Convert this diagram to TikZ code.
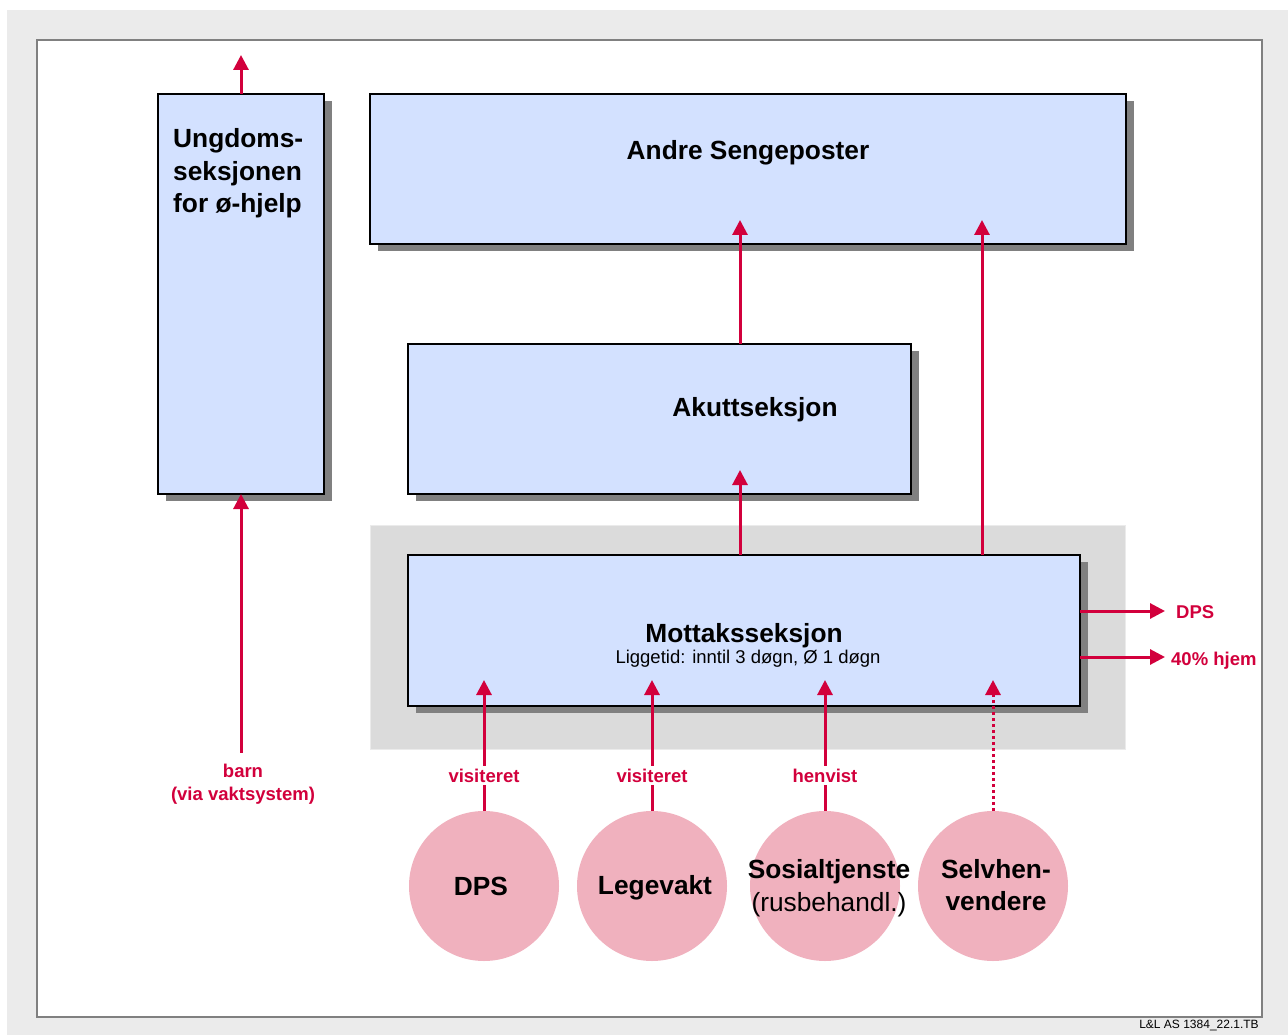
\documentclass[tikz,border=0pt]{standalone}
\usepackage{fontspec}
\setmainfont{Liberation Sans}
\usetikzlibrary{arrows.meta,shadows,calc}
\definecolor{pagegrey}{RGB}{235,235,235}
\definecolor{framegrey}{RGB}{128,128,128}
\definecolor{boxblue}{RGB}{211,225,255}
\definecolor{mottakbg}{RGB}{219,219,219}
\definecolor{shadowgrey}{RGB}{128,128,128}
\definecolor{crimson}{RGB}{210,0,60}
\definecolor{pinkc}{RGB}{240,177,190}
\begin{document}
\begin{tikzpicture}[x=1pt,y=-1pt,
  box/.style={draw=black, line width=1.5pt, fill=boxblue, inner sep=0pt, outer sep=0pt, anchor=north west,
    drop shadow={shadow xshift=8pt, shadow yshift=-7pt, fill=shadowgrey, opacity=1}},
  circ/.style={circle, fill=pinkc, minimum size=150pt, inner sep=0pt, outer sep=0pt},
  arr/.style={draw=crimson, line width=3pt, -{Triangle[width=15pt,length=15pt]}},
  dotarr/.style={arr, dash pattern=on 3.5pt off 2.5pt},
  title/.style={font=\fontsize{26.3}{32.5}\selectfont\bfseries, inner sep=0pt},
  sub/.style={font=\fontsize{18.5}{22}\selectfont, inner sep=0pt},
  redlab/.style={font=\fontsize{18.5}{23}\selectfont\bfseries, text=crimson, align=center},
  cutlab/.style={redlab, fill=white, inner sep=3pt},
  footer/.style={font=\fontsize{12}{14}\selectfont, inner sep=0pt}
]
\useasboundingbox (0,0) rectangle (1288,1035);
\fill[white] (0,0) rectangle (1288,1035);
\fill[pagegrey] (7,10) rectangle (1288,1035);
\filldraw[fill=white, draw=framegrey, line width=2.5pt] (37,40) rectangle (1262,1017);

% boxes
\node[box, minimum width=166pt, minimum height=400pt] (ung) at (158,94) {};
\node[box, minimum width=756pt, minimum height=150pt] (andre) at (370,94) {};
\node[box, minimum width=503pt, minimum height=150pt] (akutt) at (408,344) {};
\node[fill=mottakbg, draw=white!92!black, line width=1pt, anchor=north west, minimum width=755pt, minimum height=224pt, inner sep=0pt] (mbg) at (370,525) {};
\node[box, minimum width=672pt, minimum height=151pt] (mottak) at (408,555) {};

% box texts
\node[title, align=left, anchor=west] (ungtxt) at (173,173.5) {Ungdoms-\\seksjonen\\for ø-hjelp};
\node[title] (andretxt) at (748,153) {Andre Sengeposter};
\node[title] (akuttxt) at (755,410) {Akuttseksjon};
\node[title] (mottxt) at (744,636) {Mottaksseksjon};
\node[sub] (motsub) at (748,659) {Liggetid: inntil 3 døgn, Ø 1 døgn};

% circles
\node[circ] (c1) at (484,886) {};
\node[circ] (c2) at (652,886) {};
\node[circ] (c3) at (825,886) {};
\node[circ] (c4) at (993,886) {};
\node[title] (c1txt) at (481,886) {DPS};
\node[title] (c2txt) at (655,888) {Legevakt};
\node[title, align=center] (c3txt) at (829,888) {Sosialtjenste\\\mdseries(rusbehandl.)};
\node[title, align=center] (c4txt) at (996,885) {Selvhen-\\vendere};

% coordinates for arrow tips
\coordinate (ungout) at (241,55);
\coordinate (ta) at (740,220);
\coordinate (tb) at (740,470);
\coordinate (tc) at (982,220);
\coordinate (tin) at (0,680);
\coordinate (r1) at (1165,611);
\coordinate (r2) at (1165,657);

% arrows
\draw[arr] (ung.north) -- (ungout);
\node[redlab, inner sep=0pt] (barn) at (243,784) {barn\\(via vaktsystem)};
\draw[arr] ($(barn.north -| ung.south)+(0,-11)$) -- (ung.south);
\draw[arr] (akutt.north -| ta) -- (ta);
\draw[arr] (mottak.north -| tb) -- (tb);
\draw[arr] (mottak.north -| tc) -- (tc);
\draw[arr] (c1.north) -- (c1.north |- tin) node[cutlab, pos=0.27] (l1) {visiteret};
\draw[arr] (c2.north) -- (c2.north |- tin) node[cutlab, pos=0.27] (l2) {visiteret};
\draw[arr] (c3.north) -- (c3.north |- tin) node[cutlab, pos=0.27] (l3) {henvist};
\draw[dotarr] (c4.north) -- (c4.north |- tin);
\draw[arr] (mottak.east |- r1) -- (r1);
\draw[arr] (mottak.east |- r2) -- (r2);
\node[redlab, anchor=west, inner sep=0pt] (rdps) at (1176,612) {DPS};
\node[redlab, anchor=west, inner sep=0pt] (rhjem) at (1171,661) {40\% hjem};

\node[footer] (foot) at (1199,1025) {L\&L AS 1384\_22.1.TB};
\end{tikzpicture}
\end{document}
